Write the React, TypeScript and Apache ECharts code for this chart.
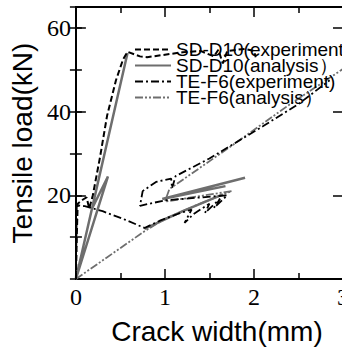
import React, { useEffect, useRef } from "react";
import * as echarts from "echarts";

type P = [number, number] | null;

const seriesNames = [
  "SD-D10(experiment)",
  "SD-D10(analysis）",
  "TE-F6(experiment)",
  "TE-F6(analysis）",
];

const sdExperiment: P[] = [
  [0, 0], [0.01, 10], [0.02, 18], [0.08, 19], [0.12, 19.5], [0.15, 16.8],
  [0.19, 20], [0.27, 29], [0.35, 39], [0.45, 47.5], [0.53, 52.5], [0.58, 54.3],
  [0.72, 53.2], [0.8, 53], [1.0, 53.6], [1.2, 54.2], [1.4, 54.5], [1.55, 53.2],
  [1.6, 54.8], [1.65, 51.5], [1.7, 54.5], [1.9, 55], [2.0, 54.5], [2.02, 53],
];

const sdAnalysis: P[] = [
  [0, 0], [0.58, 54], null,
  [0, 0], [0.36, 24.5], [0.18, 16.8], null,
  [0.77, 12], [1.2, 16.2], [1.65, 20.2], null,
  [1.9, 24.2], [0.97, 19.1], [1.68, 22.2],
];

const teExperiment: P[] = [
  [0, 0], [0.01, 17.6], [0.1, 17.4], [0.3, 16.2], [0.55, 14.2], [0.77, 12.2],
  [0.95, 14], [1.15, 15.6], [1.3, 16.6], [1.22, 13.4], [1.32, 15.5], [1.5, 18],
  [1.45, 15.8], [1.62, 19.2], [1.55, 17], [1.7, 20], [1.0, 18.8], [0.72, 17.5],
  [0.75, 21], [0.9, 23.2], [1.07, 24], [1.08, 21.7], [1.12, 24.6], [1.5, 28.8],
  [2.1, 36.5], [2.5, 41.8], [2.85, 47.5],
];

const teAnalysis: P[] = [
  [0, 0], [0.77, 11.4], [1.0, 14.4], [1.35, 17.6], [1.75, 21], [1.0, 18.5],
  [1.05, 21.5], [1.76, 32], [2.38, 41.4], [3, 50.2],
];

const BLACK = "#000";
const GREY = "#6e6e6e";

export default function App() {
  const ref = useRef<HTMLDivElement>(null);
  useEffect(() => {
    const chart = echarts.init(ref.current!, null, { renderer: "svg" });
    const axisLine = { show: true, onZero: false, lineStyle: { color: BLACK, width: 2 } };
    const tickStyle = { color: BLACK, width: 1.5 };
    const serif = "'Liberation Serif', 'Times New Roman', serif";
    const sans = "'Liberation Sans', Arial, sans-serif";
    chart.setOption({
      animation: false,
      backgroundColor: "#fff",
      grid: { left: 70, top: 7, width: 273, height: 274 },
      legend: {
        data: seriesNames,
        orient: "vertical",
        left: 134,
        top: 40,
        padding: 0,
        itemWidth: 36,
        itemHeight: 2,
        itemGap: -3,
        itemStyle: { color: "transparent", borderWidth: 0 },
        textStyle: { fontFamily: sans, fontSize: 19, color: BLACK },
      },
      xAxis: [
        {
          type: "value", min: 0, max: 3, interval: 1, position: "bottom",
          axisLine,
          axisTick: { inside: true, length: 10, lineStyle: tickStyle },
          minorTick: { show: true, splitNumber: 2, length: 6, lineStyle: tickStyle },
          splitLine: { show: false },
          axisLabel: { fontFamily: serif, fontSize: 24, color: BLACK, margin: 6 },
          name: "Crack width(mm)", nameLocation: "middle", nameGap: 38,
          nameTextStyle: { fontFamily: sans, fontSize: 28, color: BLACK, padding: [0, 0, 0, 15] },
        },
        {
          type: "value", min: 0, max: 3, interval: 1, position: "top",
          axisLine,
          axisTick: { inside: true, length: 10, lineStyle: tickStyle },
          minorTick: { show: true, splitNumber: 2, length: 6, lineStyle: tickStyle },
          splitLine: { show: false },
          axisLabel: { show: false },
        },
      ],
      yAxis: [
        {
          type: "value", min: 0, max: 65, interval: 20, position: "left",
          axisLine,
          axisTick: { inside: true, length: 10, lineStyle: tickStyle },
          splitLine: { show: false },
          axisLabel: {
            fontFamily: serif, fontSize: 24, color: BLACK, margin: 5,
            showMaxLabel: false,
            formatter: (v: number) => (v === 0 || v > 60 ? "" : String(v)),
          },
          name: "Tensile load(kN)", nameLocation: "middle", nameGap: 32,
          nameTextStyle: { fontFamily: sans, fontSize: 28, color: BLACK },
        },
        {
          type: "value", min: 0, max: 65, interval: 10, position: "left",
          axisLine: { show: false },
          axisTick: { inside: true, length: 6, lineStyle: tickStyle },
          splitLine: { show: false },
          axisLabel: { show: false },
        },
        {
          type: "value", min: 0, max: 65, interval: 20, position: "right",
          axisLine,
          axisTick: { inside: true, length: 10, lineStyle: tickStyle },
          splitLine: { show: false },
          axisLabel: { show: false },
        },
        {
          type: "value", min: 0, max: 65, interval: 10, position: "right",
          axisLine: { show: false },
          axisTick: { inside: true, length: 6, lineStyle: tickStyle },
          splitLine: { show: false },
          axisLabel: { show: false },
        },
      ],
      series: [
        {
          name: seriesNames[0], type: "line", data: sdExperiment, symbol: "none",
          color: BLACK, lineStyle: { color: BLACK, width: 2, type: [6, 3] }, z: 4,
        },
        {
          name: seriesNames[1], type: "line", data: sdAnalysis, symbol: "none",
          color: GREY, lineStyle: { color: GREY, width: 2.5, type: "solid" }, z: 3,
        },
        {
          name: seriesNames[2], type: "line", data: teExperiment, symbol: "none",
          color: BLACK, lineStyle: { color: BLACK, width: 1.8, type: [8, 3, 2, 3] }, z: 4,
        },
        {
          name: seriesNames[3], type: "line", data: teAnalysis, symbol: "none",
          color: GREY, lineStyle: { color: GREY, width: 1.8, type: [8, 2, 2, 2, 2, 2] }, z: 3,
        },
      ],
    });
    return () => chart.dispose();
  }, []);
  return (
    <div
      style={{
        position: "fixed", left: 0, top: 0, width: 342, height: 350,
        overflow: "hidden", background: "#fff",
      }}
    >
      <div ref={ref} style={{ width: 362, height: 350 }} />
    </div>
  );
}
